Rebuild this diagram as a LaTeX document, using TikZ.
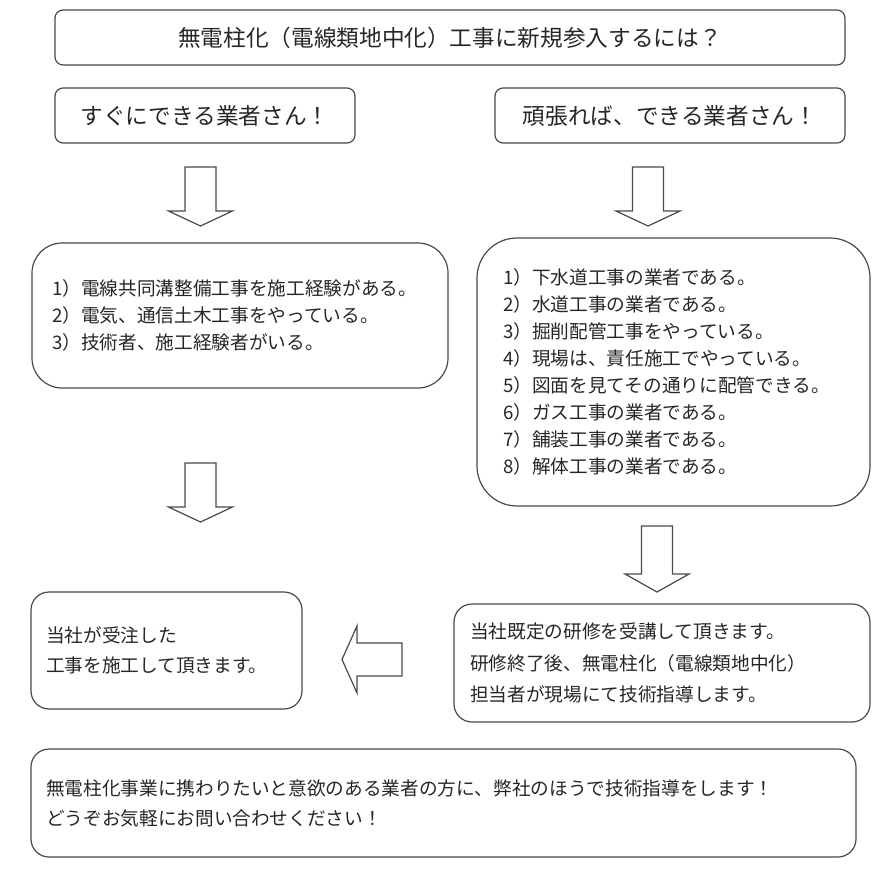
\documentclass[tikz,border=0pt]{standalone}
\usepackage{fontspec}
\setmainfont{Noto Sans CJK JP}
\usepackage{xcolor}
\usepackage{tikz}
\usetikzlibrary{positioning,calc}
\definecolor{boxline}{HTML}{4A4A4A}
\definecolor{ink}{HTML}{262626}
\newdimen\pxu \pxu=0.75pt

\begin{document}
\begin{tikzpicture}[x=0.75pt, y=-0.75pt,
 box/.style={draw=boxline, line width=0.9pt, text=ink, inner ysep=0pt},
 headbox/.style={box, rounded corners=8\pxu, align=center,
   font=\fontsize{17}{20}\selectfont},
 listbox/.style={box, align=left, font=\fontsize{14}{20.2}\selectfont},
 blockarrow/.style={draw=boxline, line width=0.9pt, fill=white, line join=miter}]
\useasboundingbox (0,0) rectangle (890,874);
% top row
\node[headbox, minimum width=790\pxu, minimum height=55\pxu] (title) at (450,37.5)
 {無電柱化（電線類地中化）工事に新規参入するには？};
\node[headbox, minimum width=300\pxu, minimum height=55\pxu] (quick) at (205,115.5)
 {すぐにできる業者さん！};
\node[headbox, minimum width=350\pxu, minimum height=55\pxu] (effort) at (670,115.5)
 {頑張れば、できる業者さん！};
% lists
\node[listbox, rounded corners=30\pxu, text width=376\pxu, inner xsep=20\pxu,
 minimum height=145\pxu] (quicklist) at (240,315.5)
 {1）電線共同溝整備工事を施工経験がある。\\
  2）電気、通信土木工事をやっている。\\
  3）技術者、施工経験者がいる。};
\node[listbox, rounded corners=40\pxu, text width=341\pxu, inner xsep=26\pxu,
 minimum height=268\pxu] (effortlist) at (673.5,372)
 {1）下水道工事の業者である。\\
  2）水道工事の業者である。\\
  3）掘削配管工事をやっている。\\
  4）現場は、責任施工でやっている。\\
  5）図面を見てその通りに配管できる。\\
  6）ガス工事の業者である。\\
  7）舗装工事の業者である。\\
  8）解体工事の業者である。};
% results
\node[listbox, rounded corners=18\pxu, text width=241\pxu, inner xsep=15\pxu,
 minimum height=117\pxu, font=\fontsize{14}{22.5}\selectfont] (order) at (166.5,650.5)
 {当社が受注した\\工事を施工して頂きます。};
\node[listbox, rounded corners=18\pxu, text width=384\pxu, inner xsep=16\pxu,
 minimum height=118\pxu, font=\fontsize{14}{23.5}\selectfont] (training) at (662,663)
 {当社既定の研修を受講して頂きます。\\
  研修終了後、無電柱化（電線類地中化）\\
  担当者が現場にて技術指導します。};
\node[listbox, rounded corners=18\pxu, text width=795\pxu, inner xsep=15\pxu,
 minimum height=108\pxu, font=\fontsize{14}{22.5}\selectfont] (contact) at (443.5,803)
 {無電柱化事業に携わりたいと意欲のある業者の方に、弊社のほうで技術指導をします！\\
  どうぞお気軽にお問い合わせください！};
% down arrows: centre x / shaft top / head base / tip
\foreach \cx/\ty/\hy/\tp in {200.5/167/211/226, 648/167/211/226,
  200.5/463/507/522, 657/526/574/592}
  \draw[blockarrow] (\cx-15.5,\ty) -- (\cx+15.5,\ty) -- (\cx+15.5,\hy)
   -- (\cx+32,\hy) -- (\cx,\tp) -- (\cx-32,\hy) -- (\cx-15.5,\hy) -- cycle;
% left arrow
\draw[blockarrow] (402,643) -- (402,676) -- (357,676) -- (357,693)
 -- (342,659.5) -- (357,626) -- (357,643) -- cycle;
\end{tikzpicture}
\end{document}
